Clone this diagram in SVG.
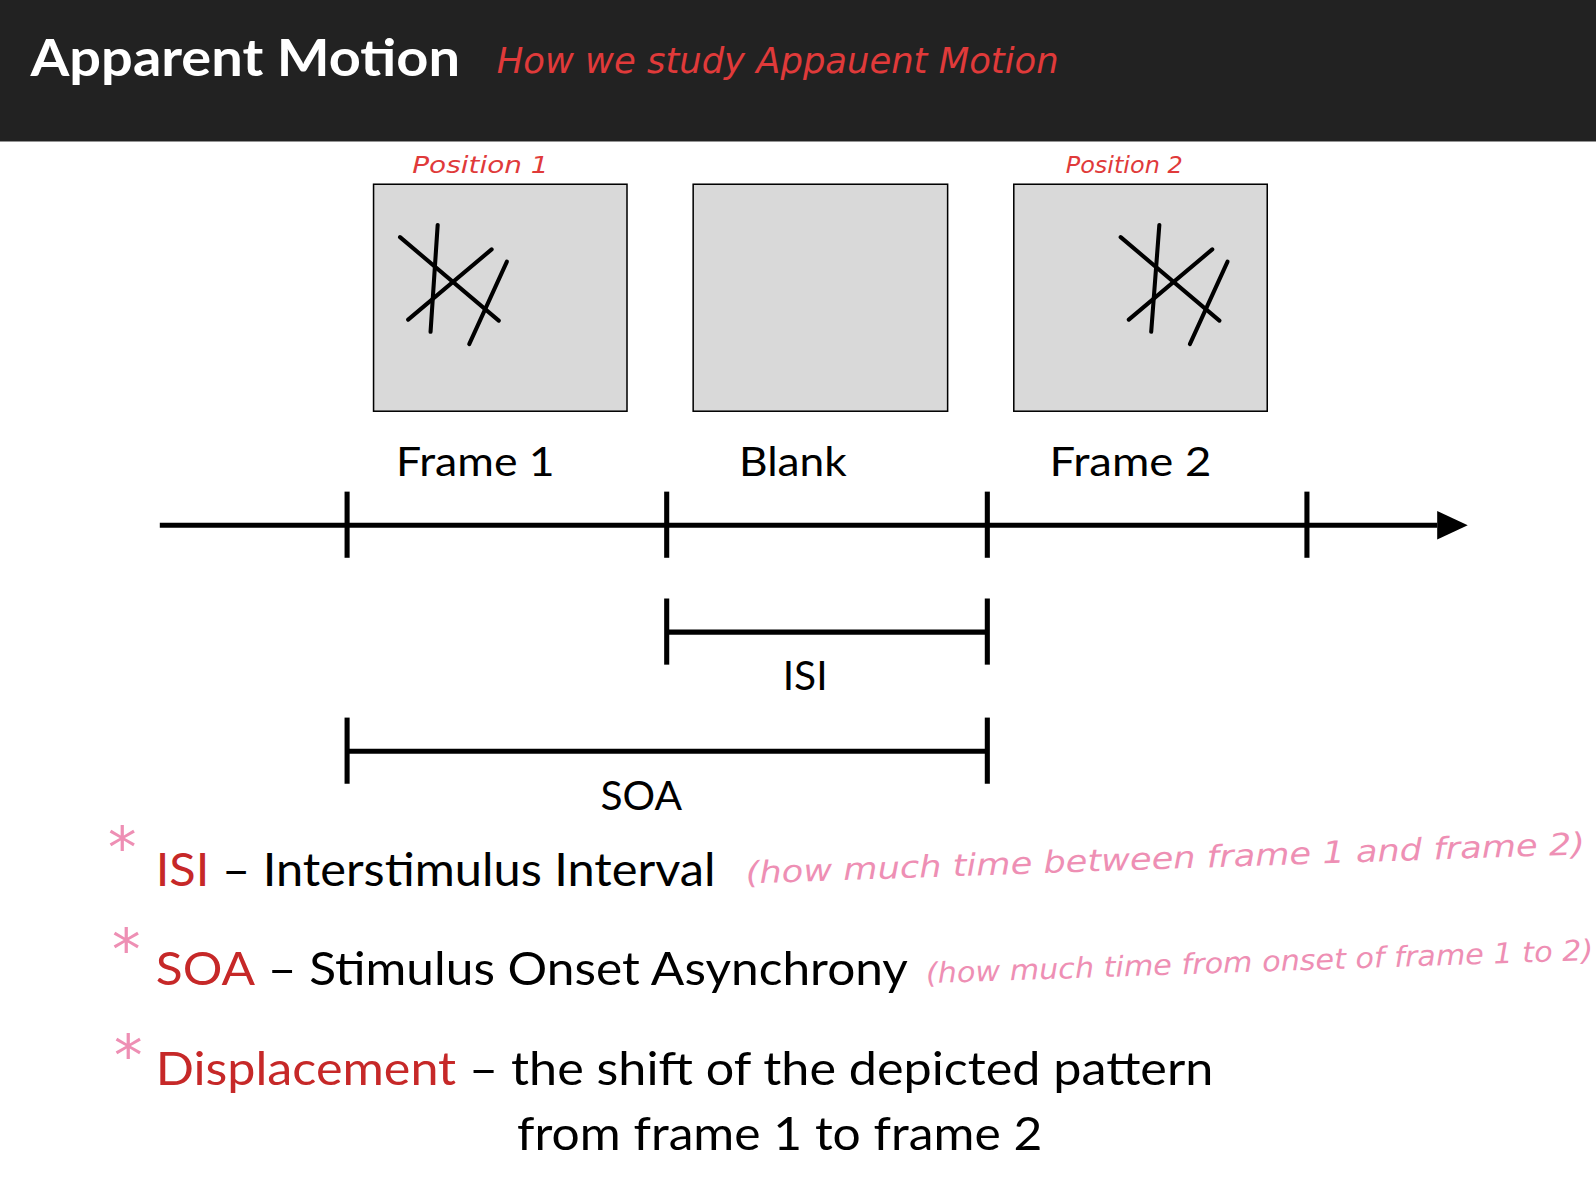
<svg xmlns="http://www.w3.org/2000/svg" width="1596" height="1184" viewBox="0 0 1596 1184">
<style>
.t{font-family:Lato,"Noto Sans",sans-serif;fill:#000}
.h{font-family:"DejaVu Sans",sans-serif;font-style:italic}
.red{fill:#c62828}
.pk{fill:#ee8fb4}
.box{fill:#d9d9d9;stroke:#000;stroke-width:1.5}
.ln{stroke:#000;stroke-width:5;fill:none}
.st{stroke:#000;stroke-width:4;stroke-linecap:round}
</style>
<rect width="1596" height="1184" fill="#fff"/>
<g transform="scale(1.01786)">
<g id="header">
<rect x="0" y="0" width="1568" height="139" fill="#222"/>
<text x="30" y="75" class="t" font-size="50" font-weight="bold" style="fill:#fff" textLength="422" lengthAdjust="spacingAndGlyphs">Apparent Motion</text>
<text x="488" y="72" class="h" font-size="34" fill="#e03a3a" textLength="552" lengthAdjust="spacingAndGlyphs">How we study Appauent Motion</text>
</g>
<g id="frame1">
<text x="405" y="170" class="h" font-size="22" fill="#e03a3a" textLength="134" lengthAdjust="spacingAndGlyphs">Position 1</text>
<rect x="367" y="181" width="249" height="223" class="box"/>
<line x1="393" y1="233" x2="490" y2="315" class="st"/><line x1="430" y1="221" x2="423" y2="326" class="st"/>
<line x1="483" y1="245" x2="401" y2="314" class="st"/><line x1="498" y1="257" x2="461" y2="338" class="st"/>
<text x="389" y="468" class="t" font-size="40" textLength="156" lengthAdjust="spacingAndGlyphs">Frame 1</text>
</g>
<g id="blank">
<rect x="681" y="181" width="250" height="223" class="box"/>
<text x="726" y="468" class="t" font-size="40" textLength="106" lengthAdjust="spacingAndGlyphs">Blank</text>
</g>
<g id="frame2">
<text x="1047" y="170" class="h" font-size="22" fill="#e03a3a" textLength="115" lengthAdjust="spacingAndGlyphs">Position 2</text>
<rect x="996" y="181" width="249" height="223" class="box"/>
<line x1="1101" y1="233" x2="1198" y2="315" class="st"/><line x1="1139" y1="221" x2="1131" y2="326" class="st"/>
<line x1="1191" y1="245" x2="1109" y2="314" class="st"/><line x1="1206" y1="257" x2="1169" y2="338" class="st"/>
<text x="1031" y="468" class="t" font-size="40" textLength="159" lengthAdjust="spacingAndGlyphs">Frame 2</text>
</g>
<g id="connectors">
<line x1="157" y1="516" x2="1412" y2="516" class="ln" stroke-width="6"/>
<path d="M1412,502 L1442,516 L1412,530 z" fill="#000"/>
<line x1="341" y1="483" x2="341" y2="548" class="ln"/>
<line x1="655" y1="483" x2="655" y2="548" class="ln"/>
<line x1="970" y1="483" x2="970" y2="548" class="ln"/>
<line x1="1284" y1="483" x2="1284" y2="548" class="ln"/>
<line x1="655" y1="621" x2="970" y2="621" class="ln"/>
<line x1="655" y1="588" x2="655" y2="653" class="ln"/>
<line x1="970" y1="588" x2="970" y2="653" class="ln"/>
<line x1="341" y1="738" x2="970" y2="738" class="ln"/>
<line x1="341" y1="705" x2="341" y2="770" class="ln"/>
<line x1="970" y1="705" x2="970" y2="770" class="ln"/>
</g>
<g id="labels">
<text x="791" y="678" class="t" font-size="40" text-anchor="middle">ISI</text>
<text x="630" y="796" class="t" font-size="40" text-anchor="middle">SOA</text>
</g>
<g id="defs-text">
<text x="106" y="852" class="h pk" font-size="56">*</text>
<text x="153" y="870" class="t" font-size="46" textLength="550" lengthAdjust="spacingAndGlyphs"><tspan class="red">ISI</tspan> – Interstimulus Interval</text>
<text x="733" y="868" class="h pk" font-size="30" textLength="825" lengthAdjust="spacingAndGlyphs" transform="rotate(-2 733 868)">(how much time between frame 1 and frame 2)</text>
<text x="110" y="952" class="h pk" font-size="56">*</text>
<text x="153" y="968" class="t" font-size="46" textLength="739" lengthAdjust="spacingAndGlyphs"><tspan class="red">SOA</tspan> – Stimulus Onset Asynchrony</text>
<text x="910" y="966" class="h pk" font-size="28" textLength="656" lengthAdjust="spacingAndGlyphs" transform="rotate(-2 910 966)">(how much time from onset of frame 1 to 2)</text>
<text x="112" y="1056" class="h pk" font-size="56">*</text>
<text x="153" y="1066" class="t" font-size="46" textLength="1039" lengthAdjust="spacingAndGlyphs"><tspan class="red">Displacement</tspan> – the shift of the depicted pattern</text>
<text x="508" y="1130" class="t" font-size="46" textLength="516" lengthAdjust="spacingAndGlyphs">from frame 1 to frame 2</text>
</g>
</g>
</svg>
